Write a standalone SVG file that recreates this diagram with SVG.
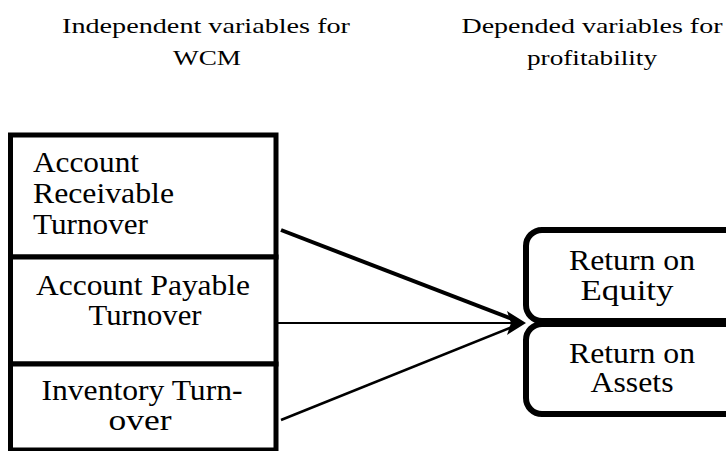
<svg xmlns="http://www.w3.org/2000/svg" width="726" height="451" viewBox="0 0 726 451">
<style>
.hdr{font-size:21px;fill:#000;text-anchor:middle}
.t{font-size:29px;fill:#000}
.c{text-anchor:middle}
.lb{fill:#fff;stroke:#000;stroke-width:5}
.rb{fill:#fff;stroke:#000;stroke-width:6}
.cn{stroke:#000;fill:none}
</style>
<rect width="726" height="451" fill="#fff"/>
<g id="headers" font-family="Liberation Serif, Tinos, Times New Roman, serif">
<text class="hdr" x="206" y="33" textLength="288" lengthAdjust="spacingAndGlyphs">Independent variables for</text>
<text class="hdr" x="207" y="65" textLength="68" lengthAdjust="spacingAndGlyphs">WCM</text>
<text class="hdr" x="592" y="33" textLength="261" lengthAdjust="spacingAndGlyphs">Depended variables for</text>
<text class="hdr" x="592" y="65" textLength="130" lengthAdjust="spacingAndGlyphs">profitability</text>
</g>
<g id="connectors">
<line class="cn" x1="281" y1="230" x2="512" y2="319" stroke-width="4"/>
<line class="cn" x1="278" y1="323" x2="512" y2="323" stroke-width="2"/>
<line class="cn" x1="281" y1="420" x2="512" y2="327" stroke-width="2.5"/>
<polygon points="526,323 507,311 511,323 507,335" fill="#000"/>
</g>
<g id="n_ar" font-family="Liberation Serif, Tinos, Times New Roman, serif">
<rect class="lb" x="10.5" y="135" width="265.5" height="122"/>
<text class="t" x="33" y="172" textLength="106" lengthAdjust="spacingAndGlyphs">Account</text>
<text class="t" x="33" y="203" textLength="141" lengthAdjust="spacingAndGlyphs">Receivable</text>
<text class="t" x="33" y="234" textLength="115" lengthAdjust="spacingAndGlyphs">Turnover</text>
</g>
<g id="n_ap" font-family="Liberation Serif, Tinos, Times New Roman, serif">
<rect class="lb" x="10.5" y="257" width="265.5" height="107"/>
<text class="t c" x="143" y="295" textLength="214" lengthAdjust="spacingAndGlyphs">Account Payable</text>
<text class="t c" x="145" y="325" textLength="113" lengthAdjust="spacingAndGlyphs">Turnover</text>
</g>
<g id="n_it" font-family="Liberation Serif, Tinos, Times New Roman, serif">
<rect class="lb" x="10.5" y="364" width="265.5" height="86"/>
<text class="t c" x="142" y="400" textLength="201" lengthAdjust="spacingAndGlyphs">Inventory Turn-</text>
<text class="t c" x="140" y="430" textLength="63" lengthAdjust="spacingAndGlyphs">over</text>
</g>
<g id="n_roe" font-family="Liberation Serif, Tinos, Times New Roman, serif">
<rect class="rb" x="526" y="230" width="240" height="91" rx="16"/>
<text class="t c" x="632" y="270" textLength="126" lengthAdjust="spacingAndGlyphs">Return on</text>
<text class="t c" x="627" y="300" textLength="93" lengthAdjust="spacingAndGlyphs">Equity</text>
</g>
<g id="n_roa" font-family="Liberation Serif, Tinos, Times New Roman, serif">
<rect class="rb" x="526" y="324" width="240" height="90" rx="16"/>
<text class="t c" x="632" y="363" textLength="126" lengthAdjust="spacingAndGlyphs">Return on</text>
<text class="t c" x="632" y="392" textLength="83" lengthAdjust="spacingAndGlyphs">Assets</text>
</g>
</svg>
